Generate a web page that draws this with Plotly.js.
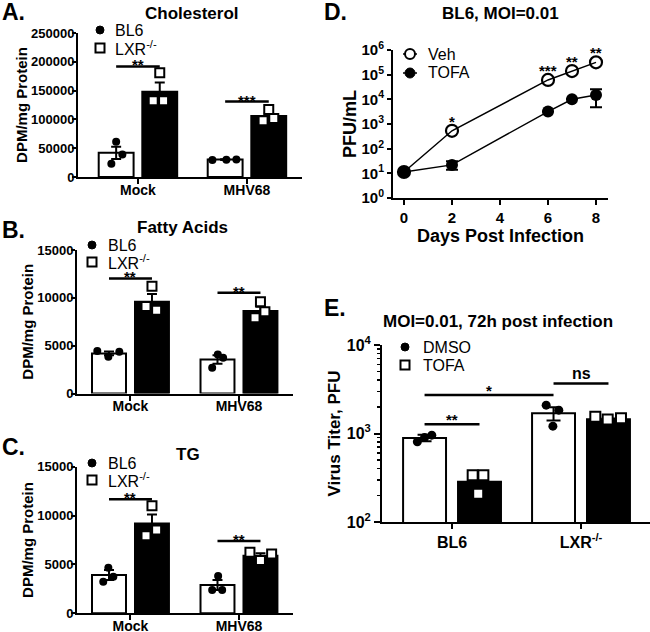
<!DOCTYPE html>
<html><head><meta charset="utf-8">
<script src="https://cdn.plot.ly/plotly-3.0.1.min.js"></script>
<style>html,body{margin:0;padding:0;background:#fff}#chart{width:650px;height:632px}</style>
</head><body><div id="chart"></div>
<script>
// ---------------- DATA ----------------
const lipidCategories = ['Mock', 'MHV68'];
const lipidSeriesNames = ['BL6', 'LXR<sup>-/-</sup>'];

// A. Cholesterol
const cholBL6Mean = [41900, 30200];
const cholBL6Sem = [10500, 800];
const cholBL6Points = [[61000, 39000, 23000], [29500, 30000, 30500]];
const cholLXRMean = [148000, 105800];
const cholLXRSem = [16000, 5000];
const cholLXRPoints = [[181000, 132500, 132500], [117000, 97700, 101700]];
const cholSigLabels = ['**', '***'];
const cholSigY = [192000, 131000];

// B. Fatty acids
const faBL6Mean = [4190, 3560];
const faBL6Sem = [200, 450];
const faBL6Points = [[4430, 3840, 4360], [4080, 3730, 2690]];
const faLXRMean = [9590, 8620];
const faLXRSem = [800, 450];
const faLXRPoints = [[11200, 9100, 8700], [9590, 8550, 7920]];
const faSigLabels = ['**', '**'];
const faSigY = [12030, 10530];

// C. TG
const tgBL6Mean = [3920, 2900];
const tgBL6Sem = [510, 510];
const tgBL6Points = [[4670, 3750, 3240], [3820, 2390, 2390]];
const tgLXRMean = [9200, 5900];
const tgLXRSem = [920, 250];
const tgLXRPoints = [[11010, 8520, 7940], [6240, 5390, 6070]];
const tgSigLabels = ['**', '**'];
const tgSigY = [11660, 7400];

// D. Growth curve
const days = [0, 2, 6, 7, 8];
const vehPFU = [11.3, 530, 61000, 140000, 316000];
const tofaPFU = [11.3, 22, 3200, 10000, 15000];
const tofaErrUp = [0, 9, 0, 0, 10600];
const tofaErrDown = [0, 8, 0, 0, 10200];
const vehSigLabels = ['', '*', '***', '**', '**'];
const dSeriesNames = ['Veh', 'TOFA'];
const dTickVals = [1, 10, 100, 1000, 10000, 100000, 1000000];
const dTickText = ['10<sup>0</sup>', '10<sup>1</sup>', '10<sup>2</sup>', '10<sup>3</sup>', '10<sup>4</sup>', '10<sup>5</sup>', '10<sup>6</sup>'];

// E. Virus titer
const titerGroups = ['BL6', 'LXR<sup>-/-</sup>'];
const titerSeriesNames = ['DMSO', 'TOFA'];
const dmsoMean = [890, 1690];
const dmsoSem = [75, 285];
const dmsoPoints = [[806, 900, 957], [2090, 1837, 1211]];
const tofaTiterMean = [285, 1450];
const tofaTiterSem = [40, 30];
const tofaTiterPoints = [[337, 337, 209], [1546, 1440, 1490]];
const titerSigLabels = ['**', '*', 'ns'];
const titerSigY = [1276, 2716, 3683];
const titerSigFrom = [[0, 0], [0, 0], [0, 1]]; // [series, group]
const titerSigTo = [[1, 0], [0, 1], [1, 1]];
const eTickVals = [100, 1000, 10000];
const eTickText = ['10<sup>2</sup>', '10<sup>3</sup>', '10<sup>4</sup>'];

// ---------------- STYLE ----------------
const FONT = 'Liberation Sans, Arial, Helvetica, sans-serif';
const BOLD = 700;
const W = 650, H = 632;
const traces = [];
const shapes = [];
const annotations = [];
const px = v => v / W;
const py = v => 1 - v / H;

function axisBase(extra) {
  return Object.assign({
    showline: true, linecolor: 'black', linewidth: 2,
    ticks: 'outside', ticklen: 4, tickwidth: 2, tickcolor: 'black',
    showgrid: false, zeroline: false, fixedrange: true,
    tickfont: {family: FONT, size: 13, color: 'black', weight: BOLD}
  }, extra);
}

function barPanel(opt) {
  const seriesDefs = [
    {name: opt.names[0], mean: opt.mean[0], sem: opt.sem[0], pts: opt.pts[0], off: -opt.offset, fill: 'white',
     marker: {symbol: 'circle', size: opt.msize, color: 'black'}, jit: opt.jitter[0]},
    {name: opt.names[1], mean: opt.mean[1], sem: opt.sem[1], pts: opt.pts[1], off: opt.offset, fill: 'black',
     marker: {symbol: 'square', size: opt.msize + 1, color: 'white', line: {color: 'black', width: 2}}, jit: opt.jitter[1]}
  ];
  seriesDefs.forEach(s => {
    traces.push({
      type: 'bar', xaxis: opt.xa, yaxis: opt.ya, showlegend: false, hoverinfo: 'skip',
      x: s.mean.map((_, i) => i + s.off), y: s.mean, width: opt.width,
      marker: {color: s.fill, line: {color: 'black', width: 2}},
      error_y: {type: 'data', array: s.sem, visible: true, color: 'black', thickness: 2, width: opt.cap}
    });
  });
  seriesDefs.forEach(s => {
    const xs = [], ys = [];
    s.pts.forEach((arr, i) => arr.forEach((v, j) => { xs.push(i + s.off + s.jit[i][j]); ys.push(v); }));
    traces.push({
      type: 'scatter', mode: 'markers', xaxis: opt.xa, yaxis: opt.ya, name: s.name, showlegend: false,
      x: xs, y: ys, marker: s.marker, cliponaxis: false
    });
  });
  opt.sig.forEach(sg => {
    const x0 = sg.from[1] + (sg.from[0] === 0 ? -opt.offset : opt.offset);
    const x1 = sg.to[1] + (sg.to[0] === 0 ? -opt.offset : opt.offset);
    const yv = opt.log ? Math.log10(sg.y) : sg.y;
    shapes.push({type: 'line', xref: opt.xa, yref: opt.ya, x0: x0, x1: x1, y0: sg.y, y1: sg.y,
                 line: {color: 'black', width: 2.5}});
    annotations.push({xref: opt.xa, yref: opt.ya, x: (x0 + x1) / 2, y: yv, text: sg.label, showarrow: false,
                      yanchor: 'bottom', yshift: sg.label === 'ns' ? -1 : opt.starShift,
                      font: {family: FONT, size: sg.label === 'ns' ? 16 : 15, color: 'black', weight: BOLD}});
  });
  drawKey(opt.key, [
    {name: opt.names[0], kind: 'dot', size: 8},
    {name: opt.names[1], kind: 'square', size: 9}
  ]);
}

function drawKey(key, entries) {
  entries.forEach((e, k) => {
    const cx = key.x, cy = key.y + k * key.gap, r = e.size / 2;
    if (e.line) {
      shapes.push({type: 'line', xref: 'paper', yref: 'paper', x0: px(cx - 7), x1: px(cx + 7), y0: py(cy), y1: py(cy),
        line: {color: 'black', width: 1.5}});
    }
    if (e.kind === 'dot') {
      shapes.push({type: 'circle', xref: 'paper', yref: 'paper', x0: px(cx - r), x1: px(cx + r), y0: py(cy + r), y1: py(cy - r),
        fillcolor: 'black', line: {color: 'black', width: 1}});
    } else if (e.kind === 'ring') {
      shapes.push({type: 'circle', xref: 'paper', yref: 'paper', x0: px(cx - r), x1: px(cx + r), y0: py(cy + r), y1: py(cy - r),
        fillcolor: 'white', line: {color: 'black', width: 2}});
    } else {
      shapes.push({type: 'rect', xref: 'paper', yref: 'paper', x0: px(cx - r), x1: px(cx + r), y0: py(cy + r), y1: py(cy - r),
        fillcolor: 'white', line: {color: 'black', width: 2}});
    }
    annotations.push({xref: 'paper', yref: 'paper', x: px(key.tx), y: py(cy), text: e.name, showarrow: false,
      xanchor: 'left', yanchor: 'middle', font: {family: FONT, size: 16, color: 'black'}});
  });
}

// jitter (horizontal point offsets, in axis units)
const jitA = [[[0, 0.057, -0.044], [-0.117, 0.011, 0.103]], [[0, -0.06, 0.035], [0, -0.052, 0.046]]];
const jitB = [[[-0.108, -0.006, 0.095], [0.003, 0.052, -0.049]], [[0, -0.055, 0.043], [0, 0.041, -0.05]]];
const jitC = [[[-0.006, 0.04, -0.053], [0.006, -0.049, 0.043]], [[0, 0.043, -0.055], [-0.097, 0, 0.103]]];
const jitE = [[[-0.056, 0, 0.056], [-0.057, 0.041, -0.005]], [[-0.053, 0.03, -0.01], [-0.102, -0.006, 0.097]]];

function lipidSig(labels, ys) {
  return labels.map((l, i) => ({label: l, y: ys[i], from: [0, i], to: [1, i]}));
}

barPanel({xa: 'x', ya: 'y', key: {x: 100, y: 30, gap: 18, tx: 113}, names: lipidSeriesNames,
  mean: [cholBL6Mean, cholLXRMean], sem: [cholBL6Sem, cholLXRSem], pts: [cholBL6Points, cholLXRPoints],
  offset: 0.2, width: 0.32, cap: 5, msize: 8, jitter: jitA, sig: lipidSig(cholSigLabels, cholSigY), starShift: -9});
barPanel({xa: 'x2', ya: 'y2', key: {x: 92, y: 245, gap: 17, tx: 106}, names: lipidSeriesNames,
  mean: [faBL6Mean, faLXRMean], sem: [faBL6Sem, faLXRSem], pts: [faBL6Points, faLXRPoints],
  offset: 0.198, width: 0.313, cap: 5, msize: 8, jitter: jitB, sig: lipidSig(faSigLabels, faSigY), starShift: -9});
barPanel({xa: 'x3', ya: 'y3', key: {x: 92, y: 463, gap: 17, tx: 106}, names: lipidSeriesNames,
  mean: [tgBL6Mean, tgLXRMean], sem: [tgBL6Sem, tgLXRSem], pts: [tgBL6Points, tgLXRPoints],
  offset: 0.198, width: 0.313, cap: 5, msize: 8, jitter: jitC, sig: lipidSig(tgSigLabels, tgSigY), starShift: -9});
barPanel({xa: 'x5', ya: 'y5', key: {x: 405, y: 347, gap: 18, tx: 421}, names: titerSeriesNames, log: true,
  mean: [dmsoMean, tofaTiterMean], sem: [dmsoSem, tofaTiterSem], pts: [dmsoPoints, tofaTiterPoints],
  offset: 0.213, width: 0.333, cap: 7, msize: 9, jitter: jitE,
  sig: titerSigLabels.map((l, i) => ({label: l, y: titerSigY[i], from: titerSigFrom[i], to: titerSigTo[i]})),
  starShift: -6});

// D traces
traces.push({type: 'scatter', mode: 'lines+markers', xaxis: 'x4', yaxis: 'y4', name: dSeriesNames[0], showlegend: false,
  x: days, y: vehPFU, line: {color: 'black', width: 1.5},
  marker: {symbol: 'circle-open', size: 12, color: 'black', line: {width: 2.2, color: 'black'}}, cliponaxis: false});
traces.push({type: 'scatter', mode: 'lines+markers', xaxis: 'x4', yaxis: 'y4', name: dSeriesNames[1], showlegend: false,
  x: days, y: tofaPFU, line: {color: 'black', width: 1.5},
  marker: {symbol: 'circle', size: 12, color: 'black'}, cliponaxis: false,
  error_y: {type: 'data', symmetric: false, array: tofaErrUp, arrayminus: tofaErrDown, color: 'black', thickness: 2, width: 6}});
days.forEach((d, i) => {
  if (!vehSigLabels[i]) return;
  annotations.push({xref: 'x4', yref: 'y4', x: d, y: Math.log10(vehPFU[i]), text: vehSigLabels[i], showarrow: false,
    yanchor: 'bottom', yshift: -1, font: {family: FONT, size: 15, color: 'black', weight: BOLD}});
});
drawKey({x: 410, y: 54, gap: 19, tx: 426}, [
  {name: dSeriesNames[0], kind: 'ring', size: 10, line: true},
  {name: dSeriesNames[1], kind: 'dot', size: 10, line: true}
]);

// Panel labels and titles
function paperText(text, xpx, ypx, size, anchor) {
  annotations.push({xref: 'paper', yref: 'paper', x: px(xpx), y: py(ypx), text: text, showarrow: false,
    xanchor: anchor || 'center', yanchor: 'middle', font: {family: FONT, size: size, color: 'black', weight: BOLD}});
}
paperText('A.', 0, 12, 23, 'left');
paperText('Cholesterol', 192, 13, 17);
paperText('B.', 0, 230, 23, 'left');
paperText('Fatty Acids', 183, 228, 17);
paperText('C.', 0, 447, 23, 'left');
paperText('TG', 188, 455, 17);
paperText('D.', 322, 12, 23, 'left');
paperText('BL6, MOI=0.01', 500, 13, 17);
paperText('E.', 322, 308, 23, 'left');
paperText('MOI=0.01, 72h post infection', 498, 321, 17);

const yTitleFont = {family: FONT, size: 15, color: 'black', weight: BOLD};
const catFont = {family: FONT, size: 14, color: 'black', weight: BOLD};
const XS = -6, YS = -5; // tick label standoffs

const layout = {
  width: W, height: H, autosize: false,
  margin: {l: 0, r: 0, t: 0, b: 0, pad: 0},
  paper_bgcolor: 'white', plot_bgcolor: 'rgba(0,0,0,0)',
  barmode: 'overlay', showlegend: false,
  font: {family: FONT, color: 'black'},
  xaxis: axisBase({domain: [px(78), px(302)], range: [-0.55, 1.505], tickvals: [0, 1], ticktext: lipidCategories, tickfont: catFont, anchor: 'y', ticklen: 5, ticklabelstandoff: XS}),
  yaxis: axisBase({domain: [py(177), py(33)], range: [0, 250000], dtick: 50000, tickformat: 'd', anchor: 'x', ticklabelstandoff: YS,
    title: {text: 'DPM/mg Protein', font: yTitleFont, standoff: 0}}),
  xaxis2: axisBase({domain: [px(77), px(293)], range: [-0.493, 1.498], tickvals: [0, 1], ticktext: lipidCategories, tickfont: catFont, anchor: 'y2', ticklen: 5, ticklabelstandoff: XS}),
  yaxis2: axisBase({domain: [py(393.5), py(250)], range: [0, 15000], dtick: 5000, tickformat: 'd', anchor: 'x2', ticklabelstandoff: YS,
    title: {text: 'DPM/mg Protein', font: yTitleFont, standoff: 0}}),
  xaxis3: axisBase({domain: [px(77), px(293)], range: [-0.493, 1.498], tickvals: [0, 1], ticktext: lipidCategories, tickfont: catFont, anchor: 'y3', ticklen: 5, ticklabelstandoff: XS}),
  yaxis3: axisBase({domain: [py(613.3), py(466.7)], range: [0, 15000], dtick: 5000, tickformat: 'd', anchor: 'x3', ticklabelstandoff: YS,
    title: {text: 'DPM/mg Protein', font: yTitleFont, standoff: 0}}),
  xaxis4: axisBase({domain: [px(393), px(608)], range: [-0.458, 8.5], tickvals: [0, 2, 4, 6, 8], anchor: 'y4', ticklen: 5,
    tickfont: {family: FONT, size: 15, color: 'black', weight: BOLD},
    title: {text: 'Days Post Infection', font: {family: FONT, size: 18, color: 'black', weight: BOLD}, standoff: 4}}),
  yaxis4: axisBase({domain: [py(198), py(50)], type: 'log', range: [0, 6], tickvals: dTickVals, ticktext: dTickText, anchor: 'x4',
    tickfont: {family: FONT, size: 15, color: 'black', weight: BOLD},
    title: {text: 'PFU/mL', font: {family: FONT, size: 18, color: 'black', weight: BOLD}, standoff: 0}}),
  xaxis5: axisBase({domain: [px(382), 1], range: [-0.543, 1.535], tickvals: [0, 1], ticktext: titerGroups, anchor: 'y5', ticklen: 5,
    tickfont: {family: FONT, size: 16, color: 'black', weight: BOLD}}),
  yaxis5: axisBase({domain: [py(522), py(345)], type: 'log', range: [2, 4], tickvals: eTickVals, ticktext: eTickText, anchor: 'x5',
    ticklen: 6, tickfont: {family: FONT, size: 16, color: 'black', weight: BOLD},
    minor: {ticks: 'outside', ticklen: 3, tickwidth: 1.5, tickcolor: 'black', dtick: 'D1', showgrid: false},
    title: {text: 'Virus Titer, PFU', font: {family: FONT, size: 17, color: 'black', weight: BOLD}, standoff: 2}}),
  shapes: shapes,
  annotations: annotations
};

Plotly.newPlot('chart', traces, layout, {staticPlot: true, displayModeBar: false});
</script>
</body></html>
